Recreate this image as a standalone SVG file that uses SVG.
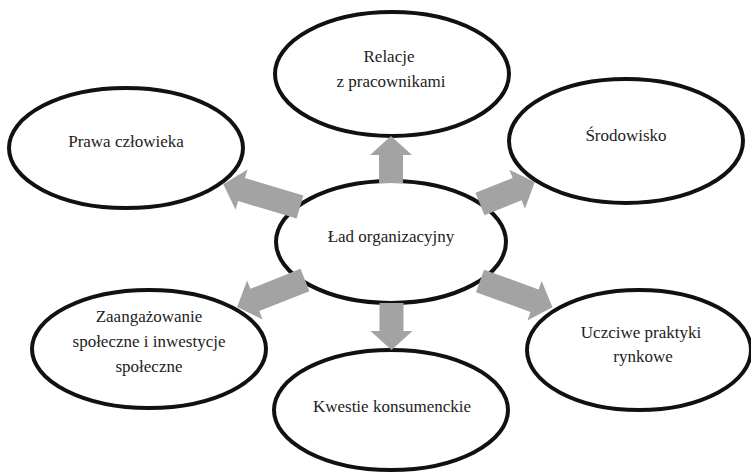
<svg xmlns="http://www.w3.org/2000/svg" width="751" height="472" viewBox="0 0 751 472" font-family="Liberation Serif">
<style>
.oval{fill:#ffffff;stroke:#111111;stroke-width:4}
.arrow{fill:#a3a3a3;stroke:none}
</style>
<rect width="751" height="472" fill="#ffffff"/>
<g id="n-relacje">
<ellipse class="oval" cx="392" cy="74" rx="117" ry="62"/>
<text x="389" y="62" font-family="Liberation Serif" font-size="17" fill="#222222" text-anchor="middle">Relacje</text>
<text x="391" y="87" font-family="Liberation Serif" font-size="17" fill="#222222" text-anchor="middle">z pracownikami</text>
</g>
<g id="n-prawa">
<ellipse class="oval" cx="126" cy="148" rx="117" ry="60"/>
<text x="126" y="147" font-family="Liberation Serif" font-size="17" fill="#222222" text-anchor="middle">Prawa człowieka</text>
</g>
<g id="n-srodowisko">
<ellipse class="oval" cx="626" cy="141" rx="117" ry="62"/>
<text x="626" y="141" font-family="Liberation Serif" font-size="17" fill="#222222" text-anchor="middle">Środowisko</text>
</g>
<g id="n-lad">
<ellipse class="oval" cx="391" cy="242" rx="115" ry="61"/>
<text x="391" y="242" font-family="Liberation Serif" font-size="17" fill="#222222" text-anchor="middle">Ład organizacyjny</text>
</g>
<g id="n-zaangazowanie">
<ellipse class="oval" cx="149" cy="349" rx="117" ry="59"/>
<text x="149" y="322" font-family="Liberation Serif" font-size="17" fill="#222222" text-anchor="middle">Zaangażowanie</text>
<text x="149" y="347" font-family="Liberation Serif" font-size="17" fill="#222222" text-anchor="middle">społeczne i inwestycje</text>
<text x="149" y="372" font-family="Liberation Serif" font-size="17" fill="#222222" text-anchor="middle">społeczne</text>
</g>
<g id="n-kwestie">
<ellipse class="oval" cx="391" cy="410" rx="117" ry="60"/>
<text x="392" y="412" font-family="Liberation Serif" font-size="17" fill="#222222" text-anchor="middle">Kwestie konsumenckie</text>
</g>
<g id="n-uczciwe">
<ellipse class="oval" cx="639" cy="350" rx="112" ry="60"/>
<text x="641" y="338" font-family="Liberation Serif" font-size="17" fill="#222222" text-anchor="middle">Uczciwe praktyki</text>
<text x="643" y="362" font-family="Liberation Serif" font-size="17" fill="#222222" text-anchor="middle">rynkowe</text>
</g>
<g id="connectors">
<polygon class="arrow" transform="translate(391,183) rotate(-90)" points="0,-12 28,-12 28,-21 47,0 28,21 28,12 0,12"/>
<polygon class="arrow" transform="translate(391.5,303) rotate(90)" points="0,-12 28,-12 28,-21 47,0 28,21 28,12 0,12"/>
<polygon class="arrow" transform="translate(300,207) rotate(-163.4)" points="0,-12 61,-12 61,-21 80,0 61,21 61,12 0,12"/>
<polygon class="arrow" transform="translate(480,204) rotate(-21.8)" points="0,-12 40,-12 40,-21 59,0 40,21 40,12 0,12"/>
<polygon class="arrow" transform="translate(305,280) rotate(158.3)" points="0,-12 54,-12 54,-21 73,0 54,21 54,12 0,12"/>
<polygon class="arrow" transform="translate(480,281) rotate(19.85)" points="0,-12 58,-12 58,-21 77,0 58,21 58,12 0,12"/>
</g>
</svg>
